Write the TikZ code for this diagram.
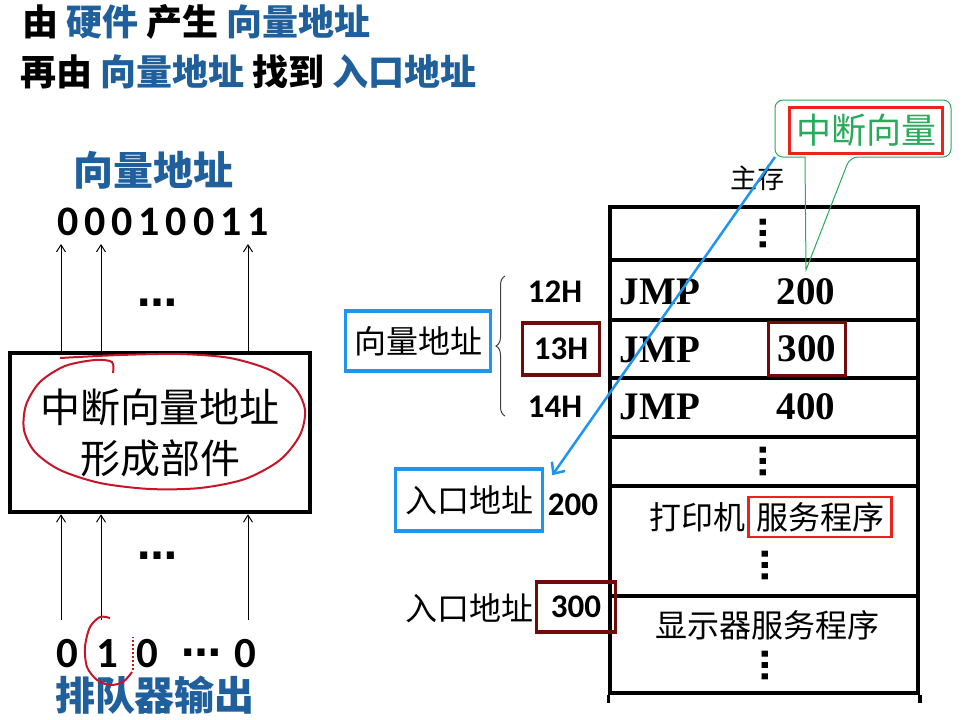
\documentclass[tikz,border=0pt]{standalone}
\usepackage{fontspec}
\setmainfont{Liberation Serif}
\newfontfamily\cjk{Noto Sans CJK SC}
\newfontfamily\numfont{Carlito}
\newfontfamily\bitfont[LetterSpace=14]{Carlito}
\newfontfamily\dotfont{DejaVu Sans}
\usetikzlibrary{arrows.meta,decorations.pathreplacing,positioning}
\definecolor{titleblue}{RGB}{31,95,155}
\definecolor{frameblue}{RGB}{30,150,240}
\definecolor{boxred}{RGB}{115,10,10}
\definecolor{markred}{RGB}{235,35,30}
\definecolor{penred}{RGB}{200,20,40}
\definecolor{calloutgreen}{RGB}{40,170,90}
\begin{document}
\begin{tikzpicture}[x=1pt,y=-1pt,
    title/.style={font=\cjk\bfseries\fontsize{36}{40}\selectfont, anchor=west, inner sep=0pt},
    big/.style={font=\cjk\fontsize{40}{51}\selectfont, inner sep=0pt},
    mid/.style={font=\cjk\fontsize{32}{38}\selectfont, inner sep=0pt},
    hexnum/.style={font=\numfont\bfseries\fontsize{33}{38}\selectfont, inner sep=0pt},
    bit/.style={font=\numfont\bfseries\fontsize{43}{46}\selectfont, inner sep=0pt},
    asm/.style={font=\bfseries\fontsize{39}{44}\selectfont, inner sep=0pt},
    hdots/.style={font=\dotfont\bfseries\fontsize{40}{40}\selectfont, inner sep=0pt, anchor=base},
    vdots/.style={font=\dotfont\bfseries\fontsize{34}{34}\selectfont, inner sep=0pt, anchor=base, rotate=90},
    cell/.style={draw, line width=3.5pt, minimum width=308pt},
    redframe/.style={draw=boxred, line width=3.5pt},
    blueframe/.style={draw=frameblue, line width=3.5pt},
    bitarrow/.style={-{Straight Barb[length=7pt,width=9pt]}, line width=1pt}]
    \fill[white] (0,0) rectangle (962,720);
    \useasboundingbox (0,0) rectangle (962,720);
    % titre
    \node[title] (line1) at (22,22) {由 \textcolor{titleblue}{硬件} 产生 \textcolor{titleblue}{向量地址}};
    \node[title] (line2) at (20,72) {再由 \textcolor{titleblue}{向量地址} 找到 \textcolor{titleblue}{入口地址}};
    % partie gauche
    \node[font=\cjk\bfseries\fontsize{40}{44}\selectfont, text=titleblue, inner sep=0pt] (vtitle) at (153,170) {向量地址};
    \node[font=\bitfont\bfseries\fontsize{42}{44}\selectfont, inner sep=0pt] (vbits) at (163,222) {00010011};
    \node[big, draw, line width=4.5pt, minimum width=300pt, minimum height=159pt, align=center] (gen) at (160,432.5) {中断向量地址\\形成部件};
    \foreach \x in {61,101,248} {
        \draw[bitarrow] (\x,0 |- gen.north) -- (\x,244);
        \draw[bitarrow] (\x,620) -- (\x,0 |- gen.south);
    }
    \node[hdots] (topdots) at (157,306) {…};
    \node[hdots] (lowdots) at (157,559) {…};
    \node[bit] (b0) at (67,654) {0};
    \node[bit] (b1) at (107,654) {1};
    \node[bit] (b2) at (147,654) {0};
    \node[hdots] (bdots) at (201,656) {…};
    \node[bit] (bn) at (245,654) {0};
    \node[font=\cjk\bfseries\fontsize{40}{44}\selectfont, text=titleblue, inner sep=0pt] (qout) at (155,695) {排队器输出};
    % traits a la main
    \draw[penred, line width=2pt] plot[smooth] coordinates {(113,373) (112,362) (95,360) (65,366) (40,382) (26,405) (24,430) (35,452) (60,470) (100,483) (150,489) (200,488) (245,479) (280,460) (300,435) (305,410) (295,388) (270,370) (230,358) (180,354) (120,355) (60,358)};
    \draw[penred, line width=2pt] plot[smooth] coordinates {(110,618) (100,617) (90,627) (85,647) (87,667) (97,680) (110,685) (123,682) (132,672)};
    \draw[penred, line width=2pt, dotted] (133,670) -- (133,637);
    % memoire
    \foreach \n/\yc/\h in {1/233.5/53, 2/290/60, 3/349/58, 4/407.5/59, 5/461.5/49, 6/541/110, 7/644.5/97}
        \node[cell, minimum height=\h pt] (row\n) at (764,\yc) {};
    \draw[line width=3.5pt] (row7.south west) -- ++(0,8);
    \draw[line width=3.5pt] (row7.south east) -- ++(0,8);
    \node[vdots] (dots1) at (766.5,233) {…};
    \node[asm] (jmp12) at (660,292) {JMP};
    \node[asm] (v12) at (806,292) {200};
    \node[asm] (jmp13) at (660,350) {JMP};
    \node[asm, redframe, minimum width=77pt, minimum height=53pt] (v13) at (807,349) {300};
    \node[asm] (jmp14) at (660,407) {JMP};
    \node[asm] (v14) at (806,407) {400};
    \node[vdots] (dots2) at (766.5,461) {…};
    \node[mid, draw=markred, line width=2.5pt, minimum width=143pt, minimum height=40pt] (svc1) at (820,517) {服务程序};
    \node[mid, left=2pt of svc1] (prn) {打印机};
    \node[vdots] (dots3) at (768.5,565) {…};
    \node[mid] (disp) at (767,625) {显示器服务程序};
    \node[vdots] (dots4) at (768.5,665) {…};
    \node[font=\cjk\fontsize{27}{30}\selectfont, inner sep=0pt] (mem) at (757,178) {主存};
    % adresses
    \node[hexnum] (h12) at (555,292) {12H};
    \node[hexnum, redframe, minimum width=77pt, minimum height=52pt] (h13) at (561,349) {13H};
    \node[hexnum] (h14) at (555,407) {14H};
    \draw[decorate, decoration={brace, amplitude=9pt}, line width=1pt, black!75] (505,416) -- (505,276);
    \node[mid, blueframe, minimum width=145pt, minimum height=60pt] (vaddr) at (418,341) {向量地址};
    \node[mid, blueframe, minimum width=147pt, minimum height=62pt] (entry1) at (469,500) {入口地址};
    \node[hexnum] (e200) at (573,505) {200};
    \node[mid] (entry2) at (469,608) {入口地址};
    \node[hexnum, redframe, minimum width=79pt, minimum height=50pt] (e300) at (576,607) {300};
    % bulle
    \coordinate (tip) at (806,270);
    \coordinate (cocorner) at (775,157);
    \draw[calloutgreen, line width=1pt, rounded corners=8pt] (805,157) -- (cocorner) -- (775,100) -- (951,100) -- (951,157) -- (850,157) [sharp corners] -- (tip) -- cycle;
    \node[font=\cjk\fontsize{35}{40}\selectfont, text=calloutgreen, draw=markred, line width=3pt, minimum width=153pt, minimum height=46pt] (vec) at (866,130) {中断向量};
    \draw[frameblue, line width=2.5pt, -{Straight Barb[length=9pt,width=16pt]}] (cocorner) -- ([xshift=8pt,yshift=-8pt]entry1.north east);
\end{tikzpicture}
\end{document}
